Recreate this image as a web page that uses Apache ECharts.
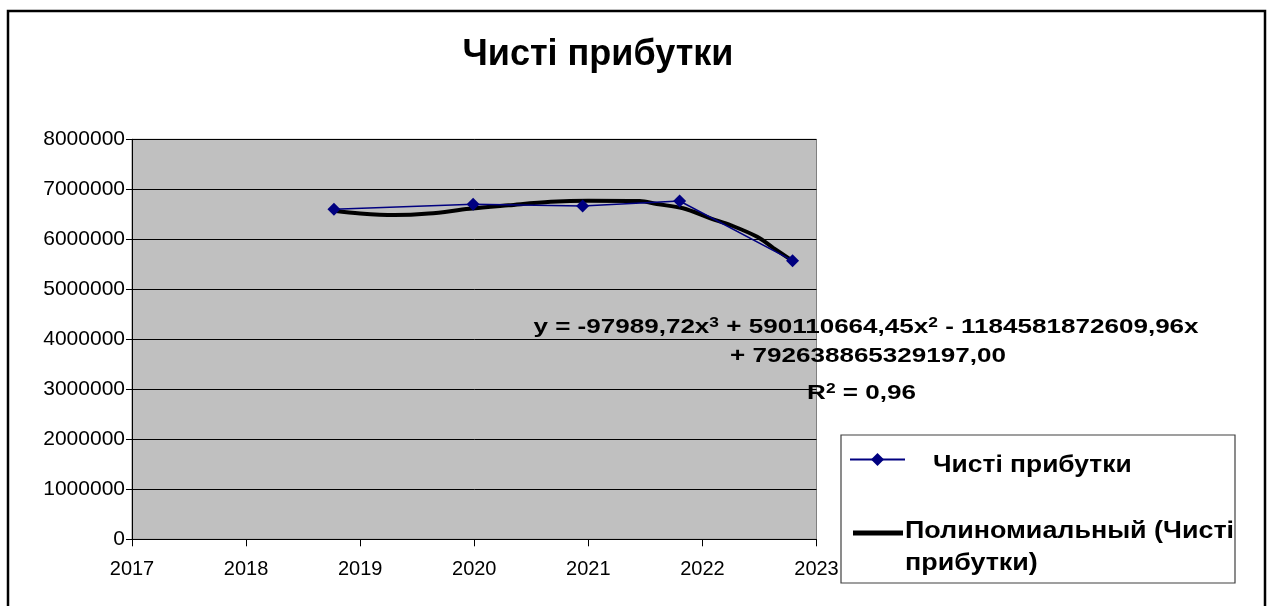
<!DOCTYPE html>
<html>
<head>
<meta charset="utf-8">
<script src="https://cdn.jsdelivr.net/npm/echarts@6/dist/echarts.min.js"></script>
<style>
  html, body { margin: 0; padding: 0; background: #ffffff; }
  #chart { width: 1269px; height: 606px; }
</style>
</head>
<body>
<div id="chart"></div>
<script>
// Net profit by year (fractional year positions of each observation)
const years = [2018.77, 2019.99, 2020.95, 2021.80, 2022.79];
const profits = [6600000, 6700000, 6666000, 6766000, 5572000];

// Polynomial (cubic) trendline sampled along the period
const trendYears = [2018.77, 2019.0, 2019.3, 2019.6, 2019.96, 2020.3, 2020.67, 2021.0, 2021.45, 2021.6, 2021.83, 2022.07, 2022.25, 2022.48, 2022.62, 2022.79];
const trendValues = [6570000, 6515000, 6484000, 6515000, 6610000, 6680000, 6750000, 6772000, 6765000, 6705000, 6620000, 6420000, 6280000, 6050000, 5830000, 5570000];

// Axis ranges and labels
const xMin = 2017, xMax = 2023, xStep = 1;
const yMin = 0, yMax = 8000000, yStep = 1000000;

const titleText = 'Чисті прибутки';
const seriesName = 'Чисті прибутки';
const trendName = 'Полиномиальный (Чисті прибутки)';
// trendline equation, {sup|..} marks superscripts
const equationLines = [
  'y = -97989,72x{sup|3} + 590110664,45x{sup|2} - 1184581872609,96x',
  '+ 792638865329197,00',
  'R{sup|2} = 0,96'
];
const legendLines = ['Чисті прибутки', 'Полиномиальный (Чисті', 'прибутки)'];

const FONT = '"Liberation Sans", Arial, Helvetica, sans-serif';

const chart = echarts.init(document.getElementById('chart'), null, { renderer: 'canvas' });

const pairs = (xs, ys) => xs.map((x, i) => [x, ys[i]]);

function diamond(cx, cy, r) {
  return [[cx, cy - r], [cx + r, cy], [cx, cy + r], [cx - r, cy]];
}

const eqRich = {
  sup: { fontFamily: FONT, fontSize: 14, fontWeight: 'bold', fill: '#000', verticalAlign: 'top', lineHeight: 22 }
};

function eqText(x, y, text) {
  return {
    type: 'text', x: x, y: y, scaleX: 1.24, z: 10,
    style: {
      text: text, fill: '#000', fontFamily: FONT, fontSize: 21, fontWeight: 'bold',
      lineHeight: 22, align: 'center', verticalAlign: 'middle', rich: eqRich
    }
  };
}

const option = {
  backgroundColor: '#ffffff',
  animation: false,
  grid: {
    left: 132, top: 139.3, right: 452.5, bottom: 66.7,
    show: true, backgroundColor: '#c0c0c0', borderColor: '#808080', borderWidth: 1,
    outerBoundsMode: 'none'
  },
  xAxis: {
    type: 'value', min: xMin, max: xMax, interval: xStep,
    axisLine: { show: true, onZero: false, lineStyle: { color: '#000', width: 1 } },
    axisTick: { show: true, inside: false, length: 7, lineStyle: { color: '#000' } },
    splitLine: { show: false },
    axisLabel: { color: '#000', fontFamily: FONT, fontSize: 20, margin: 20, formatter: v => String(v) }
  },
  yAxis: {
    type: 'value', min: yMin, max: yMax, interval: yStep,
    axisLine: { show: true, lineStyle: { color: '#000', width: 1 } },
    axisTick: { show: true, inside: false, length: 6, lineStyle: { color: '#000' } },
    splitLine: { show: true, lineStyle: { color: '#000', width: 1 } },
    axisLabel: { color: '#000', fontFamily: FONT, fontSize: 21, margin: 7, formatter: v => String(v) }
  },
  series: [
    {
      name: trendName, type: 'line', data: pairs(trendYears, trendValues),
      symbol: 'none', smooth: 0.35,
      lineStyle: { color: '#000', width: 4 }, z: 2
    },
    {
      name: seriesName, type: 'line', data: pairs(years, profits),
      symbol: 'diamond', symbolSize: 13,
      itemStyle: { color: '#000080' },
      lineStyle: { color: '#000080', width: 1.5 }, z: 3
    }
  ],
  graphic: [
    // outer chart frame
    { type: 'rect', shape: { x: 8, y: 11, width: 1257, height: 620 },
      style: { fill: 'none', stroke: '#000', lineWidth: 2.5 }, z: 10 },
    // title
    { type: 'text', x: 598, y: 55, z: 10,
      style: { text: titleText, fill: '#000', fontFamily: FONT, fontSize: 36, fontWeight: 'bold',
               align: 'center', verticalAlign: 'middle' } },
    // trendline equation
    eqText(866, 327, equationLines[0]),
    eqText(868, 356.5, equationLines[1]),
    eqText(861.5, 393, equationLines[2]),
    // legend box
    { type: 'rect', shape: { x: 841, y: 435, width: 394, height: 148 },
      style: { fill: '#fff', stroke: '#404040', lineWidth: 1.2 }, z: 10 },
    { type: 'line', shape: { x1: 850, y1: 459.5, x2: 905, y2: 459.5 },
      style: { stroke: '#000080', lineWidth: 2 }, z: 11 },
    { type: 'polygon', shape: { points: diamond(877.5, 459.5, 6.5) },
      style: { fill: '#000080' }, z: 12 },
    { type: 'text', x: 933, y: 465.3, scaleX: 1.1, z: 11,
      style: { text: legendLines[0], fill: '#000', fontFamily: FONT, fontSize: 24, fontWeight: 'bold',
               align: 'left', verticalAlign: 'middle' } },
    { type: 'line', shape: { x1: 853, y1: 533, x2: 903, y2: 533 },
      style: { stroke: '#000', lineWidth: 5 }, z: 11 },
    { type: 'text', x: 905, y: 531, scaleX: 1.12, z: 11,
      style: { text: legendLines[1], fill: '#000', fontFamily: FONT, fontSize: 24, fontWeight: 'bold',
               align: 'left', verticalAlign: 'middle' } },
    { type: 'text', x: 905, y: 563.4, scaleX: 1.12, z: 11,
      style: { text: legendLines[2], fill: '#000', fontFamily: FONT, fontSize: 24, fontWeight: 'bold',
               align: 'left', verticalAlign: 'middle' } }
  ]
};

chart.setOption(option);
</script>
</body>
</html>
